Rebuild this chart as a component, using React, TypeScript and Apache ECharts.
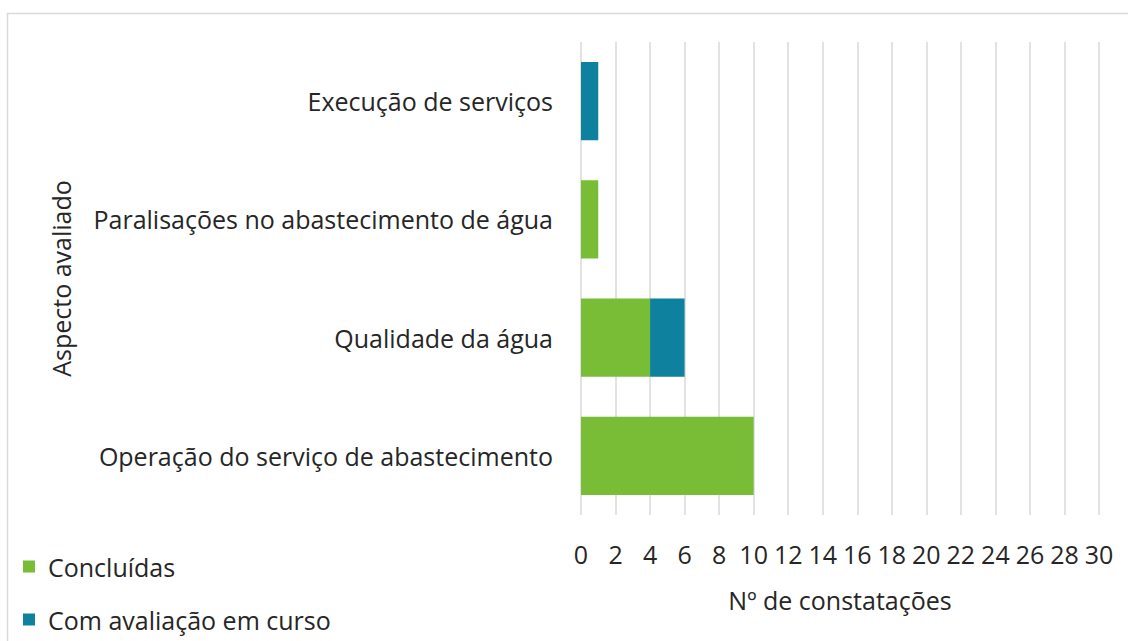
import React, { useEffect, useRef } from "react";
import * as echarts from "echarts";

const categories = [
  "Operação do serviço de abastecimento",
  "Qualidade da água",
  "Paralisações no abastecimento de água",
  "Execução de serviços",
];
const concluidas = [10, 4, 1, 0];
const emCurso = [0, 2, 0, 1];
const xMin = 0;
const xMax = 30;
const xStep = 2;

const FONT = "'Open Sans', 'Noto Sans', sans-serif";
const TEXT = "#262626";
const FS = 25;

export default function App() {
  const ref = useRef<HTMLDivElement>(null);
  useEffect(() => {
    if (!ref.current) return;
    const chart = echarts.init(ref.current, null, { renderer: "svg" });
    chart.setOption({
      animation: false,
      backgroundColor: "#ffffff",
      textStyle: { fontFamily: FONT },
      graphic: [
        {
          type: "rect",
          shape: { x: 7.5, y: 13.5, width: 1140, height: 640 },
          style: { fill: "none", stroke: "#d9d9d9", lineWidth: 1.5 },
          silent: true,
          z: -10,
        },
      ],
      grid: { left: 581, right: 29, top: 42, bottom: 126, containLabel: false },
      legend: {
        orient: "vertical",
        left: 23,
        top: 554,
        padding: 0,
        height: 85,
        itemWidth: 12,
        itemHeight: 12,
        itemGap: 28,
        icon: "rect",
        textStyle: {
          fontSize: FS,
          color: TEXT,
          fontFamily: FONT,
          lineHeight: FS,
          padding: [0, 0, 0, 8],
        },
        data: ["Concluídas", "Com avaliação em curso"],
      },
      xAxis: {
        type: "value",
        min: xMin,
        max: xMax,
        interval: xStep,
        name: "Nº de constatações",
        nameLocation: "middle",
        nameGap: 72,
        nameTextStyle: { fontSize: FS, color: TEXT, fontFamily: FONT },
        axisLine: { show: false },
        axisTick: { show: false },
        axisLabel: { fontSize: FS, color: TEXT, margin: 26, fontFamily: FONT },
        splitLine: { show: true, lineStyle: { color: "#d9d9d9", width: 1.5 } },
      },
      yAxis: {
        type: "category",
        data: categories,
        name: "Aspecto avaliado",
        nameLocation: "middle",
        nameGap: 508,
        nameRotate: 90,
        nameTextStyle: { fontSize: FS, color: TEXT, fontFamily: FONT },
        axisLine: { show: false },
        axisTick: { show: false },
        axisLabel: { fontSize: FS, color: TEXT, margin: 28, fontFamily: FONT },
        splitLine: { show: false },
      },
      series: [
        {
          name: "Concluídas",
          type: "bar",
          stack: "total",
          data: concluidas,
          barWidth: "66%",
          itemStyle: { color: "#78bd35" },
        },
        {
          name: "Com avaliação em curso",
          type: "bar",
          stack: "total",
          data: emCurso,
          barWidth: "66%",
          itemStyle: { color: "#0e819f" },
        },
      ],
    });
    return () => chart.dispose();
  }, []);
  return (
    <div
      ref={ref}
      style={{ position: "absolute", left: 0, top: 0, width: 1128, height: 641 }}
    />
  );
}
